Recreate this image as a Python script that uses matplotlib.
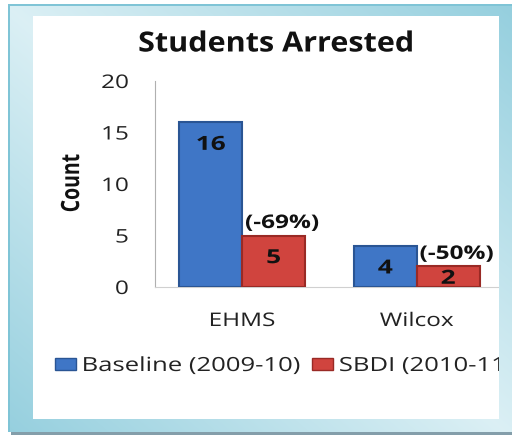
import matplotlib
matplotlib.use('Agg')
import matplotlib.pyplot as plt
import numpy as np
from matplotlib.patheffects import AbstractPathEffect
from matplotlib.transforms import Affine2D
from matplotlib.patches import Patch

plt.rcParams['font.family'] = ['Open Sans', 'DejaVu Sans']

schools = ['EHMS', 'Wilcox']
baseline = [16, 4]
sbdi = [5, 2]
change_labels = ['(-69%)', '(-50%)']
series_names = ['Baseline (2009-10)', 'SBDI (2010-11)']
y_ticks = [0, 5, 10, 15, 20]

blue, blue_edge = '#3f76c6', '#2a5594'
red, red_edge = '#d0443e', '#992a25'
ink = '#111111'


class Widen(AbstractPathEffect):
    # draws text wider than the font gives, keeping its anchor in place
    def __init__(self, sx=1.3, anchor='center'):
        super().__init__()
        self.sx = sx
        self.anchor = anchor

    def draw_path(self, renderer, gc, tpath, affine, rgbFace=None):
        bb = tpath.get_extents(affine)
        if self.anchor == 'left':
            px = bb.x0
        elif self.anchor == 'right':
            px = bb.x1
        else:
            px = (bb.x0 + bb.x1) / 2
        wide = affine + Affine2D().translate(-px, 0).scale(self.sx, 1).translate(px, 0)
        renderer.draw_path(gc, tpath, wide, rgbFace)


W, H = 512, 437
fig = plt.figure(figsize=(W / 100, H / 100), dpi=100)
fig.patch.set_facecolor('white')

# plot area in pixels: x 155..504, y 81..287
ax = fig.add_axes([155 / W, (H - 287) / H, (504 - 155) / W, (287 - 81) / H])
x = np.arange(len(schools))
bw = 0.36
b1 = ax.bar(x - bw / 2, baseline, bw, color=blue, edgecolor=blue_edge, linewidth=1.5, zorder=3)
b2 = ax.bar(x + bw / 2, sbdi, bw, color=red, edgecolor=red_edge, linewidth=1.5, zorder=3)
ax.set_xlim(-0.5, 1.5)
ax.set_ylim(0, 20)
ax.set_yticks(y_ticks, [str(v) for v in y_ticks])
ax.set_xticks(x, schools)
ax.tick_params(axis='y', length=0, pad=19, labelsize=13.5, labelcolor='#222222')
ax.tick_params(axis='x', length=0, pad=18, labelsize=13.5, labelcolor='#222222')
for s in ['top', 'right']:
    ax.spines[s].set_visible(False)
ax.spines['left'].set_color('#b0b0b0')
ax.spines['bottom'].set_color('#d0d0d0')
ax.set_facecolor('none')

for lbl in ax.get_yticklabels():
    lbl.set_path_effects([Widen(1.3, 'right')])
for lbl in ax.get_xticklabels():
    lbl.set_path_effects([Widen(1.3, 'center')])

# values inside the bars
for bars, vals in [(b1, baseline), (b2, sbdi)]:
    for rect, v in zip(bars, vals):
        cx = rect.get_x() + rect.get_width() / 2
        t = ax.text(cx, max(v - 2.2, v * 0.4), str(v), ha='center', va='center',
                    fontsize=14, fontweight='bold', color=ink, zorder=4)
        t.set_path_effects([Widen(1.35, 'center')])

# change labels above the SBDI bars
for rect, v, s in zip(b2, sbdi, change_labels):
    cx = rect.get_x() + rect.get_width() / 2
    t = ax.annotate(s, (cx, v), xytext=(6, 9), textcoords='offset points',
                    ha='center', va='center', fontsize=13.5, fontweight='bold', color=ink)
    t.set_path_effects([Widen(1.3, 'center')])

yl = fig.text(72 / W, 1 - 183 / H, 'Count', rotation=90, ha='center', va='center',
              fontsize=14, fontweight='bold', color=ink)
yl.set_path_effects([Widen(1.3, 'center')])

title = fig.text(276 / W, 1 - 44 / H, 'Students Arrested', ha='center', va='center',
                 fontsize=20, fontweight='bold', color=ink)
title.set_path_effects([Widen(1.1, 'center')])

handles = [Patch(facecolor=blue, edgecolor=blue_edge), Patch(facecolor=red, edgecolor=red_edge)]
leg = fig.legend(handles, series_names, loc='center left', bbox_to_anchor=(55 / W, 1 - 366 / H),
                 ncol=2, frameon=False, fontsize=14, handlelength=1.1, handleheight=0.55,
                 handletextpad=0.3, columnspacing=3.25, borderpad=0, borderaxespad=0)
for t in leg.get_texts():
    t.set_color('#222222')
    t.set_path_effects([Widen(1.32, 'left')])

# slide frame, transparent where the white panel is
yy, xx = np.mgrid[0:H, 0:W]
tt = np.abs(xx / W - yy / H)
light = np.array([0.86, 0.94, 0.96])
dark = np.array([0.58, 0.81, 0.87])
frame = np.ones((H, W, 4))
frame[..., :3] = light + (dark - light) * tt[..., None]
frame[4:6, 8:, :3] = [0.50, 0.77, 0.84]
frame[4:432, 8:10, :3] = [0.50, 0.77, 0.84]
frame[:4, :, :3] = 1
frame[:, :8, :3] = 1
frame[432:435, 11:, :3] = [0.52, 0.62, 0.67]
frame[435:, :, :3] = 1
frame[432:435, :11, :3] = 1
frame[16:419, 33:499, 3] = 0

ov = fig.add_axes([0, 0, 1, 1], zorder=10)
ov.imshow(frame, extent=(0, W, H, 0), interpolation='nearest', aspect='auto')
ov.set_xlim(0, W)
ov.set_ylim(H, 0)
ov.axis('off')

fig.savefig('out.png', dpi=100)
